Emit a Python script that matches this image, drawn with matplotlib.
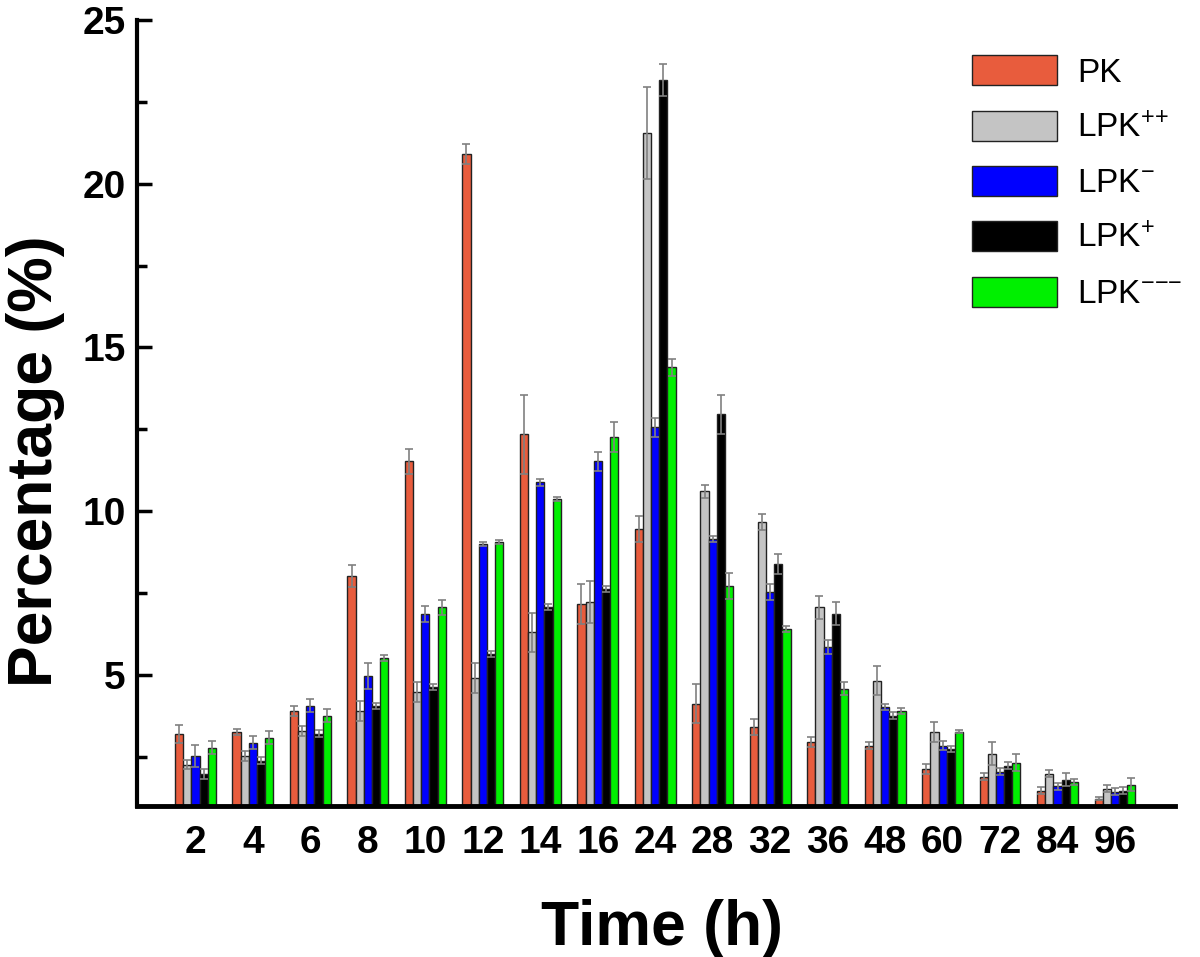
import numpy as np
import matplotlib
matplotlib.use("Agg")
import matplotlib.pyplot as plt
from matplotlib.ticker import MultipleLocator

plt.rcParams['font.family'] = ['Liberation Sans', 'DejaVu Sans']
plt.rcParams['mathtext.default'] = 'regular'

# categorias (tiempo en horas)
times = ["2", "4", "6", "8", "10", "12", "14", "16", "24", "28", "32", "36", "48", "60", "72", "84", "96"]

# series y sus desviaciones
pk = [3.20, 3.26, 3.90, 8.02, 11.52, 20.9, 12.35, 7.16, 9.45, 4.12, 3.41, 2.96, 2.84, 2.13, 1.89, 1.46, 1.22]
pk_err = [0.27, 0.1, 0.15, 0.35, 0.37, 0.3, 1.2, 0.6, 0.4, 0.6, 0.25, 0.15, 0.1, 0.15, 0.1, 0.1, 0.05]
lpk_pp = [2.26, 2.53, 3.29, 3.9, 4.48, 4.9, 6.3, 7.22, 21.55, 10.61, 9.66, 7.07, 4.82, 3.26, 2.59, 1.98, 1.52]
lpk_pp_err = [0.15, 0.15, 0.15, 0.3, 0.3, 0.45, 0.6, 0.65, 1.4, 0.2, 0.25, 0.35, 0.45, 0.3, 0.35, 0.1, 0.1]
lpk_m = [2.53, 2.93, 4.05, 4.97, 6.86, 9.0, 10.88, 11.52, 12.56, 9.15, 7.53, 5.85, 4.02, 2.84, 2.04, 1.59, 1.43]
lpk_m_err = [0.33, 0.2, 0.2, 0.4, 0.25, 0.05, 0.1, 0.3, 0.3, 0.1, 0.25, 0.2, 0.1, 0.15, 0.1, 0.1, 0.1]
lpk_p = [1.98, 2.38, 3.2, 4.05, 4.63, 5.64, 7.07, 7.62, 23.17, 12.96, 8.38, 6.86, 3.75, 2.74, 2.23, 1.8, 1.46]
lpk_p_err = [0.15, 0.1, 0.1, 0.1, 0.1, 0.1, 0.1, 0.1, 0.5, 0.6, 0.3, 0.35, 0.1, 0.1, 0.1, 0.2, 0.1]
lpk_mmm = [2.77, 3.08, 3.75, 5.52, 7.07, 9.06, 10.37, 12.26, 14.39, 7.71, 6.4, 4.57, 3.9, 3.26, 2.32, 1.73, 1.65]
lpk_mmm_err = [0.2, 0.2, 0.2, 0.1, 0.23, 0.05, 0.05, 0.45, 0.25, 0.4, 0.1, 0.2, 0.1, 0.05, 0.25, 0.1, 0.2]

labels = ["PK", "LPK$^{{+}{+}}$", "LPK$^{{-}}$", "LPK$^{{+}}$", "LPK$^{{-}{-}{-}}$"]
colors = ['#E85C3D', '#C4C4C4', '#0000FF', '#000000', '#00F000']
series = [(pk, pk_err), (lpk_pp, lpk_pp_err), (lpk_m, lpk_m_err),
          (lpk_p, lpk_p_err), (lpk_mmm, lpk_mmm_err)]

fig = plt.figure(figsize=(12, 9.57), dpi=100)
ax = fig.add_axes([0.114, 0.158, 0.865, 0.821])

x = np.arange(len(times))
w = 0.142
for k, ((vals, errs), lab, col) in enumerate(zip(series, labels, colors)):
    ax.bar(x + (k - 2) * w, vals, width=w, color=col, edgecolor='#222222',
           linewidth=1.0, label=lab, yerr=errs,
           error_kw=dict(ecolor='#808080', elinewidth=1.2, capsize=3, capthick=1.2))

ax.set_xlim(-1.02, 17.04)
ax.set_ylim(1, 25)
ax.set_xticks(x)
ax.set_xticklabels(times, fontsize=28, fontweight='bold')
ax.yaxis.set_major_locator(MultipleLocator(5))
ax.yaxis.set_minor_locator(MultipleLocator(2.5))
for t in ax.get_yticklabels():
    t.set_fontsize(28)
    t.set_fontweight('bold')

ax.tick_params(axis='x', length=0, pad=14)
ax.tick_params(axis='y', which='major', direction='in', length=11, width=2.5, pad=8)
ax.tick_params(axis='y', which='minor', direction='in', length=7, width=2.5)

ax.spines['top'].set_visible(False)
ax.spines['right'].set_visible(False)
ax.spines['left'].set_linewidth(3)
ax.spines['bottom'].set_linewidth(3.5)

ax.set_xlabel("Time (h)", fontsize=45, fontweight='bold')
ax.set_ylabel("Percentage (%)", fontsize=45, fontweight='bold')
ax.xaxis.set_label_coords(0.506, -0.118)
ax.yaxis.set_label_coords(-0.069, 0.438)

ax.legend(loc='upper left', bbox_to_anchor=(0.805, 0.955), frameon=False,
          fontsize=24, handlelength=2.55, handleheight=1.0, labelspacing=0.66,
          handletextpad=0.6, borderpad=0, borderaxespad=0)

fig.savefig("out.png", dpi=100)
